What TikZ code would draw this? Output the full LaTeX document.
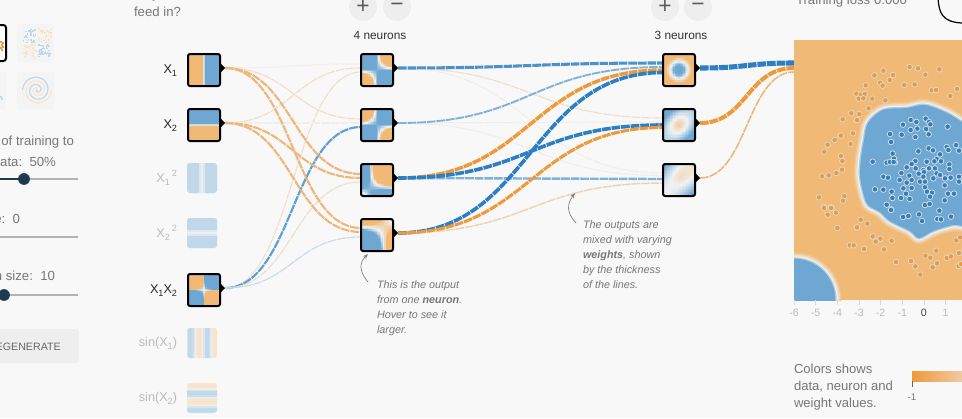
\documentclass[tikz,border=0pt]{standalone}
\usepackage{fontspec}
\setmainfont{Liberation Sans}
\usetikzlibrary{calc,arrows.meta}
\definecolor{pagebg}{HTML}{F8F8F8}
\definecolor{hbfull}{HTML}{6DA7D2}
\definecolor{hofull}{HTML}{F0B975}
\definecolor{hwfull}{HTML}{F0F2F3}
\definecolor{hbpale}{HTML}{C0D8EA}
\definecolor{hopale}{HTML}{F9E4CB}
\definecolor{hwpale}{HTML}{ECF0F2}
\definecolor{ptblue}{HTML}{2A80C2}
\definecolor{ptorange}{HTML}{EE9A3C}
\definecolor{wo}{HTML}{EEB87C}
\definecolor{wb}{HTML}{5C9FD1}
\definecolor{wB}{HTML}{2B7FC2}
\definecolor{wO}{HTML}{EE9A3A}
\definecolor{wlb}{HTML}{C4DBEB}
\definecolor{wmb}{HTML}{7FB2DA}
\definecolor{wbe}{HTML}{F0DEC8}
\definecolor{wvl}{HTML}{F0EEEA}
\definecolor{txgray}{HTML}{777777}
\definecolor{txfade}{HTML}{BBBBBB}
\definecolor{btn}{HTML}{EEEEEE}
\definecolor{sldark}{HTML}{1C3B50}
\definecolor{slgray}{HTML}{B3B3B3}
\definecolor{dsbg}{HTML}{F4F4F4}
\pgfdeclarelayer{wires}
\pgfsetlayers{wires,main}
\newcommand{\subs}[1]{\raisebox{-0.45ex}{\fontsize{6.8}{7}\selectfont #1}}
\newcommand{\sups}[1]{\raisebox{0.75ex}{\fontsize{6.8}{7}\selectfont #1}}
% heat map: centre x, centre y, half size, palette, f(\uu,\vv), corner radius
\newcommand{\heatcells}[6]{%
  \begin{scope}
  \clip[rounded corners=#6] (#1-#3,#2-#3) rectangle (#1+#3,#2+#3);
  \pgfmathsetmacro\dd{2*#3/22}
  \foreach \i in {0,...,21}{\foreach \j in {0,...,21}{%
    \pgfmathsetmacro\uu{-1+(\i+.5)/11}%
    \pgfmathsetmacro\vv{1-(\j+.5)/11}%
    \pgfmathsetmacro\ff{max(-1,min(1,#5))}%
    \pgfmathsetmacro\pp{abs(\ff)*100}%
    \ifdim\ff pt>0pt \def\hh{hb#4}\else\def\hh{ho#4}\fi
    \fill[color=\hh!\pp!hw#4] (#1-#3+\i*\dd,#2-#3+\j*\dd) rectangle ++(\dd+.6,\dd+.6);
  }}
  \end{scope}}
\newcommand{\lnk}[4]{\draw[#1] let \p1=([shift={(5,-2)}]#2.east), \p2=([shift={(0,#3)}]#4.west) in
  (\p1) .. controls ({.5*\x1+.5*\x2},\y1) and ({.5*\x1+.5*\x2},\y2) .. (\p2);}
\newcommand{\glowfill}[1]{%
  \draw[line width=9.5pt,line join=round,color=hofull!82!hwfull] #1;
  \draw[line width=7.5pt,line join=round,color=hofull!58!hwfull] #1;
  \draw[line width=5.5pt,line join=round,color=hofull!30!hwfull] #1;
  \draw[line width=3.6pt,line join=round,color=hwfull] #1;
  \draw[line width=2pt,line join=round,color=hbfull!50!hwfull] #1;
  \fill[color=hbfull] #1;}
\tikzset{
  thumb/.style={draw=black,line width=1.5pt,rounded corners=1.6pt,minimum size=24pt,inner sep=0pt,outer sep=0pt},
  pale/.style={minimum size=22.5pt,inner sep=0pt,outer sep=0pt},
  ui/.style={font=\fontsize{9.9}{12.75}\selectfont,text=txgray,inner sep=0pt,outer sep=0pt},
  note/.style={font=\fontsize{8.1}{11.25}\selectfont\itshape,text=txgray,inner sep=0pt,outer sep=0pt,align=left},
  hd/.style={font=\fontsize{8.9}{11}\selectfont,text=black!80,inner sep=0pt,outer sep=0pt},
  lab/.style={font=\fontsize{9.5}{11}\selectfont,text=black!85,inner sep=0pt,outer sep=0pt,anchor=base east},
  labf/.style={lab,text=txfade},
  tick/.style={font=\fontsize{8}{10}\selectfont,text=txfade,inner sep=0pt,outer sep=0pt},
  rbtn/.style={circle,fill=btn,minimum size=21pt,inner sep=0pt,outer sep=0pt,font=\fontsize{17}{17}\selectfont,text=black!65},
  wire/.style={dash pattern=on 6.5pt off .7pt},
  w0v/.style={wire,draw=wvl,line width=.85pt},
  w0b/.style={wire,draw=wbe,line width=.85pt},
  w0o/.style={wire,draw=wo,line width=1.6pt},
  w0B/.style={wire,draw=wb,line width=1.6pt},
  w0l/.style={wire,draw=wlb,line width=.85pt},
  pt/.style={line width=.6pt,draw=white!85!black},
  ann/.style={draw=black!50,line width=.5pt,-{Stealth[length=4pt,width=3pt]}},
}
\begin{document}
\begin{tikzpicture}[x=0.75pt,y=-0.75pt]
\useasboundingbox (0,0) rectangle (962,418);
\begin{pgfonlayer}{wires}
\fill[pagebg] (0,0) rectangle (962,418);
\end{pgfonlayer}

% ---------- left panel ----------
\fill[dsbg,rounded corners=2pt] (17,24) rectangle (54,62);
\fill[dsbg,rounded corners=2pt] (17,72) rectangle (54,109);
\fill[dsbg,rounded corners=2pt] (-30,72) rectangle (6,109);
\filldraw[fill=white,draw=black,line width=1.5pt,rounded corners=2pt] (-30,25) rectangle (6,61);
\foreach \a/\b in {0/41,1/44,0/47,2/46,1/49,2/42}{\fill[ptorange] (\a,\b) rectangle ++(1.6,1.6);}
\foreach \a/\b in {0/96,1/98}{\fill[hbpale] (\a,\b) rectangle ++(1.5,1.5);}
\pgfmathsetseed{11}
\foreach \k in {1,...,34}{
  \pgfmathsetmacro\ax{22.5+rnd*13}\pgfmathsetmacro\ay{28+rnd*14}\fill[hbpale] (\ax,\ay) rectangle ++(1.6,1.6);
  \pgfmathsetmacro\bx{38+rnd*13}\pgfmathsetmacro\by{28+rnd*14}\fill[hopale] (\bx,\by) rectangle ++(1.6,1.6);
  \pgfmathsetmacro\cx{22.5+rnd*13}\pgfmathsetmacro\cy{44+rnd*14}\fill[hopale] (\cx,\cy) rectangle ++(1.6,1.6);
  \pgfmathsetmacro\ex{38+rnd*13}\pgfmathsetmacro\ey{44+rnd*14}\fill[hbpale] (\ex,\ey) rectangle ++(1.6,1.6);
}
\draw[hbpale,line width=.9pt] plot[domain=-540:180,samples=90,smooth] ({37+14.5*(\x+540)/720*cos(\x)},{90-14.5*(\x+540)/720*sin(\x)});
\draw[hopale,line width=.9pt] plot[domain=-360:360,samples=90,smooth] ({37+14.5*(\x+360)/720*cos(\x)},{90-14.5*(\x+360)/720*sin(\x)});

\node[ui,anchor=base east] (t1) at (74,145) {of training to};
\node[ui,anchor=base east] (t2) at (56,166) {data:\ \ 50\%};
\node[ui,anchor=base east] (t3) at (20,223) {e:\ \ 0};
\node[ui,anchor=base east] (t4) at (55,280) {n size:\ \ 10};
\draw[slgray,line width=1.5pt] (24,179) -- (78,179);
\draw[sldark,line width=1.5pt] (-2,179) -- (24,179);
\fill[sldark] (24,179) circle[radius=4.4pt];
\draw[slgray,line width=1.5pt] (-2,237) -- (78,237);
\draw[slgray,line width=1.5pt] (4,295) -- (78,295);
\draw[sldark,line width=1.5pt] (-2,295) -- (4,295);
\fill[sldark] (4,295) circle[radius=4.4pt];
\fill[btn,rounded corners=2.5pt] (-30,329) rectangle (79,363);
\node[font=\fontsize{8}{11}\selectfont,text=black!60,inner sep=0pt,anchor=base east] (regen) at (61,350) {REGENERATE};

\node[ui,anchor=base west] (q0) at (134,-2) {do you want to};
\node[ui,anchor=base west] (q1) at (134,16) {feed in?};

% ---------- input thumbnails ----------
\heatcells{204}{70}{16}{full}{8*\uu}{1.6pt}
\heatcells{204}{125}{16}{full}{8*\vv}{1.6pt}
\heatcells{204}{290}{16}{full}{40*\uu*\vv}{1.6pt}
\heatcells{202}{178}{15}{pale}{20*\uu*\uu}{2.2pt}
\heatcells{202}{233}{15}{pale}{20*\vv*\vv}{2.2pt}
\heatcells{202}{343}{15}{pale}{1.2*cos(327*(\uu-0.35))}{2.2pt}
\heatcells{202}{398}{15}{pale}{1.2*cos(327*(\vv+0.8))}{2.2pt}
\node[thumb] (x1) at (204,70) {};
\node[thumb] (x2) at (204,125) {};
\node[pale] (xa) at (202,178) {};
\node[pale] (xb) at (202,233) {};
\node[thumb] (xc) at (204,290) {};
\node[pale] (xd) at (202,343) {};
\node[pale] (xe) at (202,398) {};
\node[lab] (lx1) at (177,73) {X\subs{1}};
\node[lab] (lx2) at (177,128) {X\subs{2}};
\node[labf] (lxa) at (177,182) {X\subs{1}\,\sups{2}};
\node[labf] (lxb) at (177,237) {X\subs{2}\,\sups{2}};
\node[lab] (lxc) at (177,293) {X\subs{1}X\subs{2}};
\node[labf] (lxd) at (177,346) {sin(X\subs{1})};
\node[labf] (lxe) at (177,401) {sin(X\subs{2})};

% ---------- hidden layers ----------
\heatcells{377}{70}{16}{full}{0.9-10*\uu*\vv}{1.6pt}
\heatcells{377}{125}{16}{full}{0.9+10*\uu*\vv}{1.6pt}
\heatcells{377}{180}{16}{full}{0.8-8*(\uu+0.45)*(\vv+0.55)}{1.6pt}
\heatcells{377}{235}{16}{full}{5*(\uu-0.5)*(\vv-0.55)-0.5}{1.6pt}
\heatcells{679}{70}{16}{full}{4*(0.55-sqrt(\uu*\uu+\vv*\vv))}{1.6pt}
\heatcells{679}{125}{16}{full}{1.5*(sqrt(\uu*\uu+\vv*\vv)-0.5)-0.8*\uu*\vv}{1.6pt}
\heatcells{679}{180}{16}{full}{0.7*(sqrt((\uu-0.1)*(\uu-0.1)+(\vv-0.2)*(\vv-0.2))-0.6)-0.8*\uu*\vv}{1.6pt}
\node[thumb] (n1) at (377,70) {};
\node[thumb] (n2) at (377,125) {};
\node[thumb] (n3) at (377,180) {};
\node[thumb] (n4) at (377,235) {};
\node[thumb] (m1) at (679,70) {};
\node[thumb] (m2) at (679,125) {};
\node[thumb] (m3) at (679,180) {};
\foreach \nn in {x1,x2,xc,n1,n2,n3,n4,m1,m2,m3}{
  \fill ([shift={(0,-7)}]\nn.east) -- ([shift={(5,-2)}]\nn.east) -- ([shift={(0,3)}]\nn.east) -- cycle;
}
\node[rbtn] (p1) at (363,7) {+};
\node[rbtn] (d1) at (397,7) {−};
\node[rbtn] (p2) at (665,7) {+};
\node[rbtn] (d2) at (698,7) {−};
\node[hd] (h1) at (380,35) {4 neurons};
\node[hd] (h2) at (681,35) {3 neurons};

% ---------- output heat map ----------
\node[fill=hofull,minimum width=126pt,minimum height=195pt,inner sep=0pt,outer sep=0pt] (heat) at (878,170) {};
\begin{scope}
\clip (794,40) rectangle (962,300);
\glowfill{plot[smooth cycle,tension=.55] coordinates {(925,105) (907,108) (883,110) (868,123) (864,140) (861,158) (860,175) (863,192) (868,205) (880,212) (890,221) (910,231) (919,238) (933,231) (953,225) (975,222) (990,170) (975,128) (962,122) (947,113)}}
\glowfill{(794,300) circle[radius=31pt]}
\end{scope}
\foreach \a/\b in {569/201,594/205,658/208,616/224,490/212,463/226,519/225,509/240,480/248,488/257,437/256,553/255,584/253,635/271,648/270,711/267,691/288,409/281,422/284,434/282,416/296,430/295,457/296,496/301,446/325,394/340,418/342,368/358,411/360,399/400,363/407,344/420,323/434,392/432,313/455,363/468,367/483,366/509,349/519,326/526,306/529,373/588,297/592,369/602,311/620,333/622}{
  \filldraw[pt,fill=ptorange] (720+\a/3,\b/3) circle[radius=2.1pt];}
\foreach \a/\b in {312/0,333/0,323/20,348/14,352/60,422/35,442/47,411/58,458/85,481/92,467/101,389/112,401/112,432/123,492/124,515/98,528/162,573/159,586/175,601/200,616/143,631/149,649/128,651/166,638/178,680/150,693/145,709/97,720/88,717/135,716/174,723/168}{
  \filldraw[pt,fill=ptorange] (720+\a/3,208+\b/3) circle[radius=2.1pt];}
\foreach \a/\b in {572/360,589/366,617/356,627/366,631/373,549/374,683/380,572/390,592/386,618/387,510/402,545/404,626/403,586/411,513/426,626/445,639/451,595/454,680/441,685/450,708/435,717/452,518/461,660/463,650/477,522/476,525/487,458/485,500/488,510/486,521/486,586/483,575/492,620/485,643/484,663/484,688/493,560/502,587/505,610/510,627/505,645/505,688/507,544/519,568/527,596/521,612/516,650/520,660/525,490/530,504/533,539/540,575/540,560/548,610/530,600/545,615/545,640/535,675/535,692/533,717/530,717/545,674/556,550/565,575/564,465/568,490/569,515/575,615/562,621/575,636/578,684/581,702/581,558/581,517/594,543/594,569/597,630/590,674/601,500/614,615/615,629/612,513/628}{
  \filldraw[pt,fill=ptblue] (720+\a/3,\b/3) circle[radius=2.1pt];}
\foreach \a/\b in {513/6,549/27,565/24,597/19,606/39,658/8,652/33,663/34,693/26}{
  \filldraw[pt,fill=ptblue] (720+\a/3,208+\b/3) circle[radius=2.1pt];}
\foreach \k/\tl in {0/-6,1/-5,2/-4,3/-3,4/-2,5/-1,7/1}{
  \draw[black!15,line width=.6pt] (794+21.65*\k,300) -- (794+21.65*\k,305);
  \node[tick] (tk\k) at (794+21.65*\k,313) {\tl};
}
\draw[black!15,line width=.6pt] (794+21.65*6,300) -- (794+21.65*6,305);
\node[tick,text=black!75] (tk6) at (794+21.65*6,313) {0};

% ---------- legend and loss ----------
\node[ui,anchor=north west,align=left,font=\fontsize{9.8}{12.75}\selectfont] (cl) at (794,364) {Colors shows\\data, neuron and\\weight values.};
\shade[left color=ptorange,right color=ptorange!45!hwfull] (912,371) rectangle (962,381);
\draw[black!60,line width=.7pt] (912,381) -- (912,387);
\node[font=\fontsize{7.2}{9}\selectfont,text=txgray,inner sep=0pt] (lm) at (912,397) {-1};
\node[ui,anchor=base west] (loss) at (796,4) {Training loss 0.000};
\draw[black,line width=.9pt] (938,-2) .. controls (939,13) and (942,22) .. (962,23);

% ---------- annotations ----------
\node[note,anchor=north west] (a1) at (377,281) {This is the output\\from one \textbf{neuron}.\\Hover to see it\\larger.};
\node[note,anchor=north west] (a2) at (583,221) {The outputs are\\mixed with varying\\\textbf{weights}, shown\\by the thickness\\of the lines.};
\coordinate (a1s) at (368,282);
\coordinate (a1e) at (368,254);
\coordinate (a2s) at (576,223);
\coordinate (a2e) at (575,193);
\draw[ann] (a1s) .. controls (358,270) and (360,262) .. (a1e);
\draw[ann] (a2s) .. controls (566,212) and (567,204) .. (a2e);

% ---------- weights ----------
\begin{pgfonlayer}{wires}
\lnk{w0v}{x1}{-6}{n1}
\lnk{w0b}{x2}{-2}{n1}
\lnk{w0b}{xc}{2}{n1}
\lnk{w0b}{x1}{-6}{n2}
\lnk{w0v}{x2}{-2}{n2}
\lnk{w0B}{xc}{2}{n2}
\lnk{w0b}{xc}{2}{n3}
\lnk{w0l}{xc}{2}{n4}
\lnk{w0o}{x1}{-6}{n3}
\lnk{w0o}{x2}{-2}{n3}
\lnk{w0o}{x1}{-7}{n4}
\lnk{w0o}{x2}{-3}{n4}
\lnk{w0b}{n1}{-7}{m2}
\lnk{w0v}{n2}{-3}{m2}
\lnk{w0v}{n1}{-7}{m3}
\lnk{w0v}{n2}{-4.5}{m3}
\lnk{wire,draw=wmb,line width=1.8pt}{n3}{-1}{m3}
\lnk{wire,draw=wbe!70!wo,line width=1.1pt}{n4}{3}{m3}
\lnk{wire,draw=wmb,line width=1.4pt}{n2}{-3}{m1}
\lnk{wire,draw=wB!85!white,line width=2.3pt}{n1}{-7}{m1}
\lnk{wire,draw=wO,line width=2.6pt}{n3}{0}{m1}
\lnk{wire,draw=wB,line width=2.7pt}{n4}{2.5}{m1}
\lnk{wire,draw=wB,line width=2.7pt}{n3}{0}{m2}
\lnk{wire,draw=wO,line width=2.3pt}{n4}{2.5}{m2}
\lnk{wire,draw=wo,line width=1.2pt}{m3}{-98}{heat}
\lnk{wire,draw=wO,line width=3pt}{m2}{-102}{heat}
\lnk{wire,draw=wB,line width=3.8pt}{m1}{-107}{heat}
\end{pgfonlayer}
\end{tikzpicture}
\end{document}
